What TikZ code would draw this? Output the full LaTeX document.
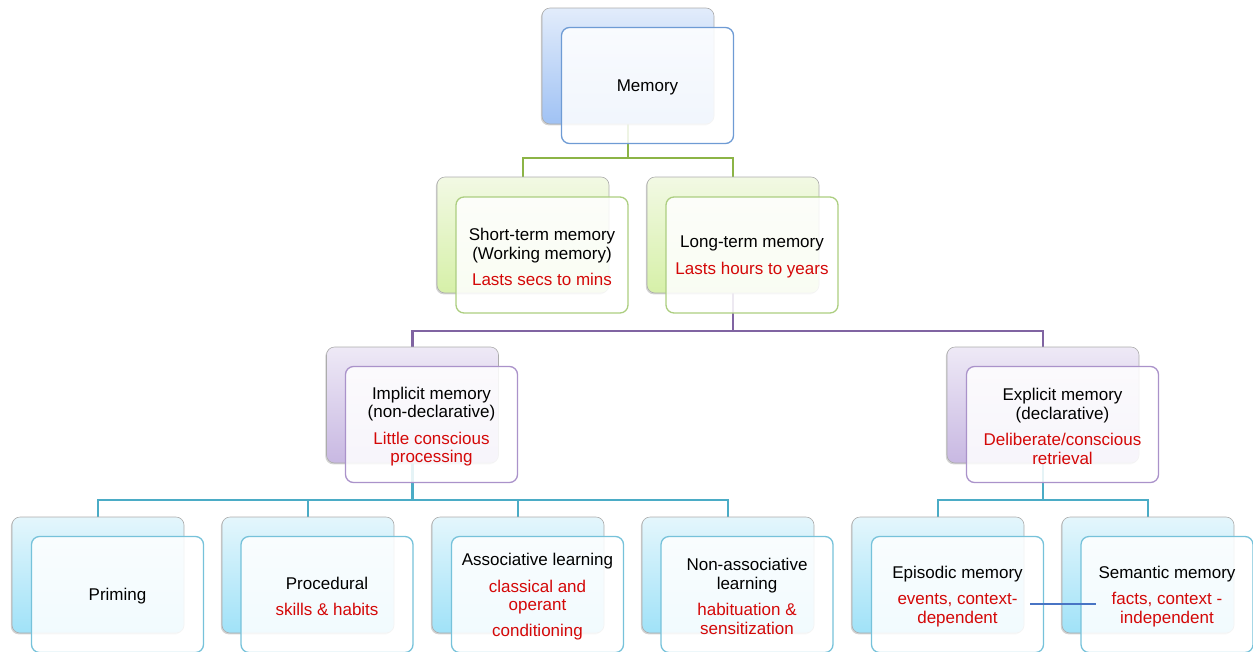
\documentclass[tikz,border=0pt]{standalone}
\usepackage{fontspec}
\setmainfont{Liberation Sans}
\usetikzlibrary{shadows}
\definecolor{memTop}{RGB}{226,236,251}
\definecolor{memBot}{RGB}{160,194,244}
\definecolor{memFr}{RGB}{110,155,212}
\definecolor{grnTop}{RGB}{242,249,228}
\definecolor{grnBot}{RGB}{214,240,168}
\definecolor{grnFr}{RGB}{172,206,128}
\definecolor{grnLn}{RGB}{140,180,70}
\definecolor{purTop}{RGB}{238,233,246}
\definecolor{purBot}{RGB}{200,184,226}
\definecolor{purFr}{RGB}{170,146,202}
\definecolor{purLn}{RGB}{128,100,162}
\definecolor{cyaTop}{RGB}{228,246,252}
\definecolor{cyaBot}{RGB}{160,226,248}
\definecolor{cyaFr}{RGB}{118,194,218}
\definecolor{cyaLn}{RGB}{75,172,198}
\definecolor{redT}{RGB}{212,8,8}
\definecolor{blueLn}{RGB}{72,116,196}
\pgfdeclarelayer{bg}
\pgfsetlayers{bg,main}
\begin{document}
\begin{tikzpicture}[x=1pt,y=-1pt,
  backbox/.style={draw=gray!65, line width=0.6pt, rounded corners=8pt,
    minimum width=172pt, minimum height=116pt, inner sep=0pt,
    drop shadow={shadow xshift=-1.2pt,shadow yshift=-1.4pt,opacity=0.35}},
  frontbox/.style={line width=1.3pt, rounded corners=8pt,
    minimum width=172pt, minimum height=116pt, inner sep=0pt,
    fill=white, fill opacity=0.86},
  wide/.style={minimum width=192pt},
  bluebk/.style={backbox, top color=memTop, bottom color=memBot},
  greenbk/.style={backbox, top color=grnTop, bottom color=grnBot},
  purplebk/.style={backbox, top color=purTop, bottom color=purBot},
  cyanbk/.style={backbox, top color=cyaTop, bottom color=cyaBot},
  txt/.style={font=\fontsize{17}{18.5}\selectfont, align=center, text=black, inner sep=0pt, yshift=-2pt},
  conn/.style={line width=2.6pt},
]
\useasboundingbox (0,0) rectangle (1253,651);
\clip (0,0) rectangle (1253,651);

% bus coordinates
\coordinate (busg) at (0,158);
\coordinate (busp) at (0,331);
\coordinate (busc) at (0,500);

% Memory
\node[bluebk] (memB) at (628,66) {};
\node[frontbox, draw=memFr] (memF) at (647.5,85.5) {};
\node[txt] (memT) at (memF) {Memory};

% Short / Long term
\node[greenbk] (stmB) at (523,235) {};
\node[frontbox, draw=grnFr] (stmF) at (542,255) {};
\node[txt] (stmT) at (stmF) {Short-term memory\\(Working memory)\\[8pt]\textcolor{redT}{Lasts secs to mins}};

\node[greenbk] (ltmB) at (733,235) {};
\node[frontbox, draw=grnFr] (ltmF) at (752,255) {};
\node[txt] (ltmT) at (ltmF) {Long-term memory\\[8pt]\textcolor{redT}{Lasts hours to years}};

% Implicit / Explicit
\node[purplebk] (impB) at (412.5,405) {};
\node[frontbox, draw=purFr] (impF) at (431.5,424.5) {};
\node[txt] (impT) at (impF) {Implicit memory\\(non-declarative)\\[8pt]\textcolor{redT}{Little conscious}\\\textcolor{redT}{processing}};

\node[purplebk, wide] (expB) at (1043,405) {};
\node[frontbox, wide, draw=purFr] (expF) at (1062.5,424.5) {};
\node[txt] (expT) at (expF) {Explicit memory\\(declarative)\\[8pt]\textcolor{redT}{Deliberate/conscious}\\\textcolor{redT}{retrieval}};

% Bottom row
\node[cyanbk] (priB) at (98,575) {};
\node[frontbox, draw=cyaFr] (priF) at (117.5,594.5) {};
\node[txt] (priT) at (priF) {Priming};

\node[cyanbk] (proB) at (308,575) {};
\node[frontbox, draw=cyaFr] (proF) at (327,594.5) {};
\node[txt] (proT) at (proF) {Procedural\\[8pt]\textcolor{redT}{skills \& habits}};

\node[cyanbk] (asoB) at (518,575) {};
\node[frontbox, draw=cyaFr] (asoF) at (537.5,594.5) {};
\node[txt] (asoT) at (asoF) {Associative learning\\[8pt]\textcolor{redT}{classical and}\\\textcolor{redT}{operant}\\[7pt]\textcolor{redT}{conditioning}};

\node[cyanbk] (nasB) at (728,575) {};
\node[frontbox, draw=cyaFr] (nasF) at (747,594.5) {};
\node[txt] (nasT) at (nasF) {Non-associative\\learning\\[8pt]\textcolor{redT}{habituation \&}\\\textcolor{redT}{sensitization}};

\node[cyanbk] (epiB) at (938,575) {};
\node[frontbox, draw=cyaFr] (epiF) at (957.5,594.5) {};
\node[txt] (epiT) at (epiF) {Episodic memory\\[8pt]\textcolor{redT}{events, context-}\\\textcolor{redT}{dependent}};

\node[cyanbk] (semB) at (1148,575) {};
\node[frontbox, draw=cyaFr] (semF) at (1167,594.5) {};
\node[txt] (semT) at (semF) {Semantic memory\\[8pt]\textcolor{redT}{facts, context -}\\\textcolor{redT}{independent}};

% connectors
\begin{pgfonlayer}{bg}
\draw[conn, grnLn] (memB.south) -- (memB.south |- busg);
\draw[conn, grnLn] (stmB.north) |- (ltmB.north |- busg) -- (ltmB.north);
\draw[conn, purLn] (ltmB.south) -- (ltmB.south |- busp);
\draw[conn, purLn] (impB.north) |- (expB.north |- busp) -- (expB.north);
\draw[conn, cyaLn] (impB.south) -- (impB.south |- busc);
\draw[conn, cyaLn] (priB.north) |- (nasB.north |- busc) -- (nasB.north);
\draw[conn, cyaLn] (proB.north) -- (proB.north |- busc);
\draw[conn, cyaLn] (asoB.north) -- (asoB.north |- busc);
\draw[conn, cyaLn] (expB.south) -- (expB.south |- busc);
\draw[conn, cyaLn] (epiB.north) |- (semB.north |- busc) -- (semB.north);
\end{pgfonlayer}

% blue link between episodic and semantic
\coordinate (bl1) at (1030,604);
\coordinate (bl2) at (1096,604);
\draw[line width=2.6pt, blueLn] (bl1) -- (bl2);
\end{tikzpicture}
\end{document}
